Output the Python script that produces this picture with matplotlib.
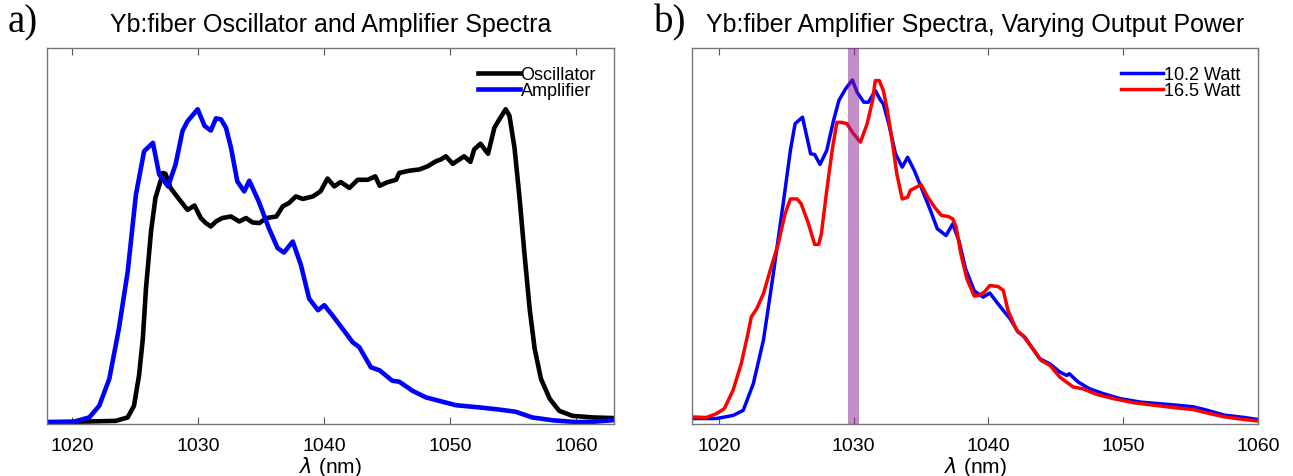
import matplotlib
matplotlib.use("Agg")
import matplotlib.pyplot as plt

plt.rcParams['font.family'] = ['Liberation Sans', 'DejaVu Sans']

# panel a: oscillator and amplifier spectra (normalized)
osc_wl = [1017.9, 1021.35, 1023.45, 1024.4, 1024.9, 1025.3, 1025.6, 1025.85, 1026.25, 1026.6,
          1027.2, 1027.4, 1027.8, 1028.5, 1029.15, 1029.7, 1030.2, 1030.6, 1031.0, 1031.4,
          1031.9, 1032.6, 1033.25, 1033.8, 1034.3, 1034.85, 1035.4, 1036.2, 1036.7, 1037.2,
          1037.75, 1038.3, 1039.1, 1039.7, 1040.26, 1040.8, 1041.3, 1042.0, 1042.65, 1043.45,
          1044.05, 1044.4, 1045.0, 1045.7, 1045.95, 1046.75, 1047.55, 1048.2, 1048.86, 1049.26,
          1049.65, 1050.2, 1051.1, 1051.6, 1051.9, 1052.4, 1053.0, 1053.5, 1053.9, 1054.4,
          1054.7, 1055.1, 1055.5, 1055.9, 1056.3, 1056.7, 1057.2, 1057.9, 1058.65, 1059.7,
          1061.3, 1062.9]
osc_val = [0.0, 0.002, 0.004, 0.015, 0.052, 0.149, 0.266, 0.426, 0.608, 0.715,
           0.795, 0.792, 0.747, 0.71, 0.677, 0.691, 0.651, 0.635, 0.624, 0.64,
           0.651, 0.656, 0.64, 0.651, 0.637, 0.635, 0.651, 0.656, 0.688, 0.699,
           0.72, 0.712, 0.72, 0.736, 0.777, 0.752, 0.766, 0.747, 0.773, 0.773,
           0.784, 0.754, 0.765, 0.773, 0.795, 0.802, 0.806, 0.816, 0.832, 0.838,
           0.848, 0.824, 0.848, 0.83, 0.87, 0.888, 0.856, 0.939, 0.966, 0.998,
           0.977, 0.875, 0.715, 0.533, 0.362, 0.234, 0.138, 0.074, 0.036, 0.02,
           0.015, 0.013]

amp_wl = [1017.9, 1020.0, 1021.35, 1022.14, 1022.94, 1023.7, 1024.4, 1025.05, 1025.7, 1026.4,
          1026.9, 1027.6, 1028.2, 1028.75, 1029.15, 1029.95, 1030.5, 1031.0, 1031.4, 1031.8,
          1032.2, 1032.6, 1033.1, 1033.65, 1034.05, 1034.8, 1035.6, 1036.3, 1036.8, 1037.5,
          1038.15, 1038.8, 1039.5, 1040.0, 1040.66, 1041.45, 1042.25, 1042.78, 1043.7, 1044.4,
          1045.4, 1045.95, 1047.0, 1048.07, 1049.1, 1050.45, 1052.3, 1053.9, 1055.2, 1056.5,
          1058.1, 1060.0, 1061.3, 1062.9]
amp_val = [0.0, 0.0, 0.015, 0.052, 0.138, 0.298, 0.48, 0.725, 0.864, 0.891,
           0.79, 0.752, 0.822, 0.929, 0.96, 0.998, 0.945, 0.93, 0.969, 0.966,
           0.939, 0.875, 0.768, 0.736, 0.77, 0.704, 0.619, 0.555, 0.541, 0.576,
           0.501, 0.394, 0.357, 0.373, 0.34, 0.298, 0.255, 0.239, 0.175, 0.165,
           0.132, 0.129, 0.10, 0.079, 0.068, 0.054, 0.047, 0.04, 0.033, 0.015,
           0.006, 0.0, 0.001, 0.006]

# panel b: amplifier spectra at two output powers
low_wl = [1017.8, 1019.8, 1021.05, 1021.8, 1022.55, 1023.3, 1024.0, 1024.8, 1025.3, 1025.65,
          1026.2, 1026.8, 1027.1, 1027.5, 1028.0, 1028.5, 1028.9, 1029.4, 1029.9, 1030.25,
          1030.75, 1031.1, 1031.6, 1032.0, 1032.2, 1032.6, 1033.1, 1033.6, 1034.0, 1034.5,
          1035.1, 1035.7, 1036.2, 1036.85, 1037.35, 1037.8, 1038.3, 1038.95, 1039.6, 1040.1,
          1040.6, 1041.1, 1041.6, 1042.2, 1042.7, 1043.2, 1043.8, 1044.55, 1045.3, 1045.8,
          1046.0, 1046.65, 1047.5, 1048.5, 1049.8, 1051.3, 1052.8, 1054.0, 1055.25, 1056.25,
          1057.5, 1059.0, 1060.0]
low_val = [0.01, 0.01, 0.019, 0.034, 0.112, 0.239, 0.424, 0.648, 0.794, 0.872,
           0.891, 0.784, 0.782, 0.753, 0.794, 0.881, 0.94, 0.974, 1.0, 0.964,
           0.935, 0.935, 0.969, 0.94, 0.93, 0.872, 0.784, 0.745, 0.774, 0.735,
           0.677, 0.618, 0.565, 0.545, 0.579, 0.531, 0.448, 0.383, 0.365, 0.377,
           0.351, 0.326, 0.302, 0.263, 0.248, 0.219, 0.185, 0.17, 0.146, 0.136,
           0.141, 0.117, 0.097, 0.083, 0.068, 0.058, 0.053, 0.049, 0.044, 0.034,
           0.02, 0.013, 0.007]

high_wl = [1017.8, 1019.05, 1019.8, 1020.4, 1021.05, 1021.65, 1022.15, 1022.4, 1022.8, 1023.3,
           1023.8, 1024.4, 1024.9, 1025.3, 1025.8, 1026.1, 1026.65, 1027.1, 1027.4, 1027.6,
           1028.0, 1028.4, 1028.75, 1029.1, 1029.5, 1029.9, 1030.5, 1031.0, 1031.4, 1031.6,
           1031.9, 1032.2, 1032.5, 1032.85, 1033.2, 1033.6, 1034.0, 1034.2, 1035.0, 1035.5,
           1036.0, 1036.5, 1037.0, 1037.35, 1037.6, 1037.95, 1038.4, 1038.95, 1039.3, 1039.7,
           1040.1, 1040.7, 1041.1, 1041.45, 1042.1, 1042.55, 1043.3, 1043.9, 1044.55, 1045.3,
           1046.3, 1047.0, 1048.0, 1049.3, 1050.8, 1052.25, 1053.75, 1055.25, 1056.25, 1057.5,
           1059.0, 1060.0]
high_val = [0.015, 0.013, 0.024, 0.039, 0.093, 0.17, 0.258, 0.307, 0.331, 0.375,
            0.443, 0.521, 0.608, 0.652, 0.652, 0.638, 0.579, 0.519, 0.519, 0.55,
            0.677, 0.794, 0.876, 0.876, 0.872, 0.847, 0.818, 0.872, 0.94, 0.998,
            0.998, 0.969, 0.91, 0.823, 0.725, 0.652, 0.657, 0.677, 0.694, 0.657,
            0.628, 0.604, 0.601, 0.594, 0.57, 0.492, 0.418, 0.368, 0.37, 0.38,
            0.399, 0.396, 0.385, 0.326, 0.268, 0.253, 0.214, 0.18, 0.166, 0.131,
            0.102, 0.097, 0.081, 0.068, 0.056, 0.049, 0.042, 0.036, 0.026, 0.015,
            0.007, 0.003]

band_lo, band_hi = 1029.55, 1030.4
ticks = [1020, 1030, 1040, 1050, 1060]

fig = plt.figure(figsize=(12.93, 4.77), dpi=100)
ax1 = fig.add_axes([0.0364, 0.109, 0.4385, 0.788])
ax2 = fig.add_axes([0.5352, 0.109, 0.4377, 0.788])

ax1.plot(osc_wl, osc_val, color='k', lw=3.3, label='Oscillator')
ax1.plot(amp_wl, amp_val, color='#0000ff', lw=3.3, label='Amplifier')
ax1.set_xlim(1018, 1063)
ax1.set_ylim(-0.006, 1.193)
ax1.set_title('Yb:fiber Oscillator and Amplifier Spectra', fontsize=18, pad=12)

ax2.plot(low_wl, low_val, color='#0000ff', lw=2.5, label='10.2 Watt')
ax2.plot(high_wl, high_val, color='#ff0000', lw=2.5, label='16.5 Watt')
ax2.axvspan(band_lo, band_hi, color='#891d91', alpha=0.5, lw=0, zorder=5)
ax2.set_xlim(1018, 1060)
ax2.set_ylim(-0.006, 1.093)
ax2.set_title('Yb:fiber Amplifier Spectra, Varying Output Power', fontsize=18, pad=12)

for ax in (ax1, ax2):
    ax.set_xticks(ticks)
    ax.set_yticks([])
    ax.tick_params(axis='x', direction='in', top=True, length=5, width=0.8,
                   color='#555555', labelsize=14, pad=9)
    for s in ax.spines.values():
        s.set_color('#777777')
        s.set_linewidth(1.0)
    ax.set_xlabel(r'$\lambda$ (nm)', fontsize=15, labelpad=0)
    ax.legend(loc='upper right', frameon=False, fontsize=13, handlelength=2.3,
              handletextpad=0.05, labelspacing=-0.05, borderaxespad=0.6)

fig.text(0.006, 0.933, 'a)', family='Liberation Serif', fontsize=28, va='baseline')
fig.text(0.506, 0.933, 'b)', family='Liberation Serif', fontsize=28, va='baseline')

fig.savefig('out.png', dpi=100)
